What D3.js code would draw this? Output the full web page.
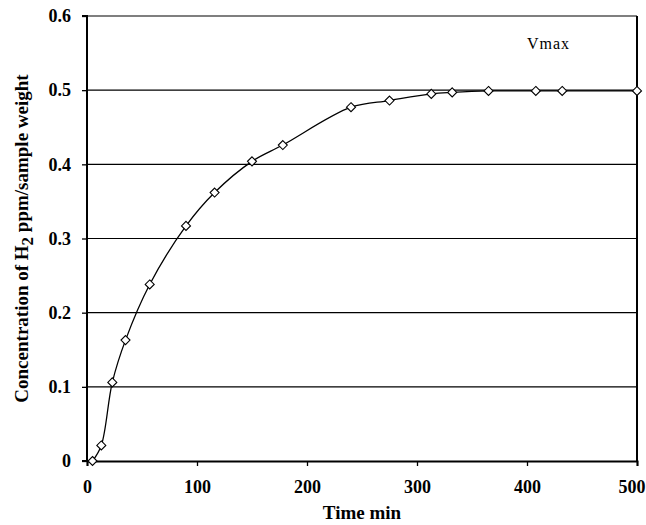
<!DOCTYPE html>
<html>
<head>
<meta charset="utf-8">
<script src="https://cdn.jsdelivr.net/npm/d3@7"></script>
<style>
  html, body { margin: 0; padding: 0; background: #fff; }
  svg { display: block; }
</style>
</head>
<body>
<svg id="chart" width="646" height="525"></svg>
<script>
const timeMin = [5, 13, 23, 35, 57, 90, 116, 150, 178, 240, 275, 313, 332, 365, 408, 432, 500];
const concentration = [0, 0.021, 0.106, 0.163, 0.238, 0.317, 0.362, 0.404, 0.426, 0.477, 0.486, 0.495, 0.497, 0.499, 0.499, 0.499, 0.499];
const xTicks = [0, 100, 200, 300, 400, 500];
const yTicks = [0, 0.1, 0.2, 0.3, 0.4, 0.5, 0.6];
const yTickLabels = ["0", "0.1", "0.2", "0.3", "0.4", "0.5", "0.6"];
const annotation = "Vmax";

const svg = d3.select("#chart");
const margin = { left: 87, right: 9, top: 16, bottom: 64 };
const W = 646, H = 525;
const x = d3.scaleLinear().domain([0, 500]).range([margin.left, W - margin.right]);
const y = d3.scaleLinear().domain([0, 0.6]).range([H - margin.bottom, margin.top]);
const font = "'Liberation Serif', 'Times New Roman', serif";

// gridlines
svg.append("g").selectAll("line").data(yTicks.slice(1)).join("line")
  .attr("x1", x(0)).attr("x2", x(500))
  .attr("y1", d => y(d)).attr("y2", d => y(d))
  .attr("stroke", "#000").attr("stroke-width", 1.1);

// right border
svg.append("line").attr("x1", x(500)).attr("x2", x(500))
  .attr("y1", y(0)).attr("y2", y(0.6)).attr("stroke", "#000").attr("stroke-width", 2);

// axes
const xAxis = svg.append("g").attr("transform", `translate(0,${y(0)})`)
  .call(d3.axisBottom(x).tickValues(xTicks).tickSize(5).tickPadding(14).tickFormat(d3.format("d")));
const yAxis = svg.append("g").attr("transform", `translate(${x(0)},0)`)
  .call(d3.axisLeft(y).tickValues(yTicks).tickSize(5).tickPadding(11)
    .tickFormat((d, i) => yTickLabels[i]));
[xAxis, yAxis].forEach(g => {
  g.select(".domain").attr("stroke", "#000").attr("stroke-width", 2);
  g.selectAll(".tick line").attr("stroke", "#000").attr("stroke-width", 1.3);
  g.selectAll(".tick text").attr("fill", "#000")
    .style("font-family", font).style("font-size", "18px").style("font-weight", "bold");
});
yAxis.select(".domain").attr("d", `M-5,${y(0.6)}H0V${y(0)}H-5`);
// keep the last x label inside the picture, as the reference does
xAxis.selectAll(".tick text").filter(d => d === 500)
  .attr("text-anchor", "end").attr("x", W - x(500) - 1);

// line
const pts = timeMin.map((t, i) => [t, concentration[i]]);
svg.append("path").datum(pts)
  .attr("fill", "none").attr("stroke", "#000").attr("stroke-width", 1.3)
  .attr("d", d3.line().x(d => x(d[0])).y(d => y(d[1])).curve(d3.curveCatmullRom.alpha(0.5)));

// markers
svg.append("g").selectAll("path").data(pts).join("path")
  .attr("transform", d => `translate(${x(d[0])},${y(d[1])})`)
  .attr("d", "M0,-4.5L4.5,0L0,4.5L-4.5,0Z")
  .attr("fill", "#fff").attr("stroke", "#000").attr("stroke-width", 1.1);

// annotation
svg.append("text").attr("x", 527).attr("y", 49)
  .style("font-family", font).style("font-size", "16px").style("letter-spacing", "1px")
  .text(annotation);

// axis titles
svg.append("text").attr("x", (x(0) + x(500)) / 2).attr("y", 519)
  .attr("text-anchor", "middle")
  .style("font-family", font).style("font-size", "19px").style("font-weight", "bold")
  .text("Time min");

const yt = svg.append("text")
  .attr("transform", `translate(28,${(y(0) + y(0.6)) / 2}) rotate(-90)`)
  .attr("text-anchor", "middle")
  .style("font-family", font).style("font-size", "19px").style("font-weight", "bold");
yt.append("tspan").text("Concentration of H");
yt.append("tspan").attr("dy", 5).style("font-size", "17px").text("2");
yt.append("tspan").attr("dy", -5).text(" ppm/sample weight");
</script>
</body>
</html>
